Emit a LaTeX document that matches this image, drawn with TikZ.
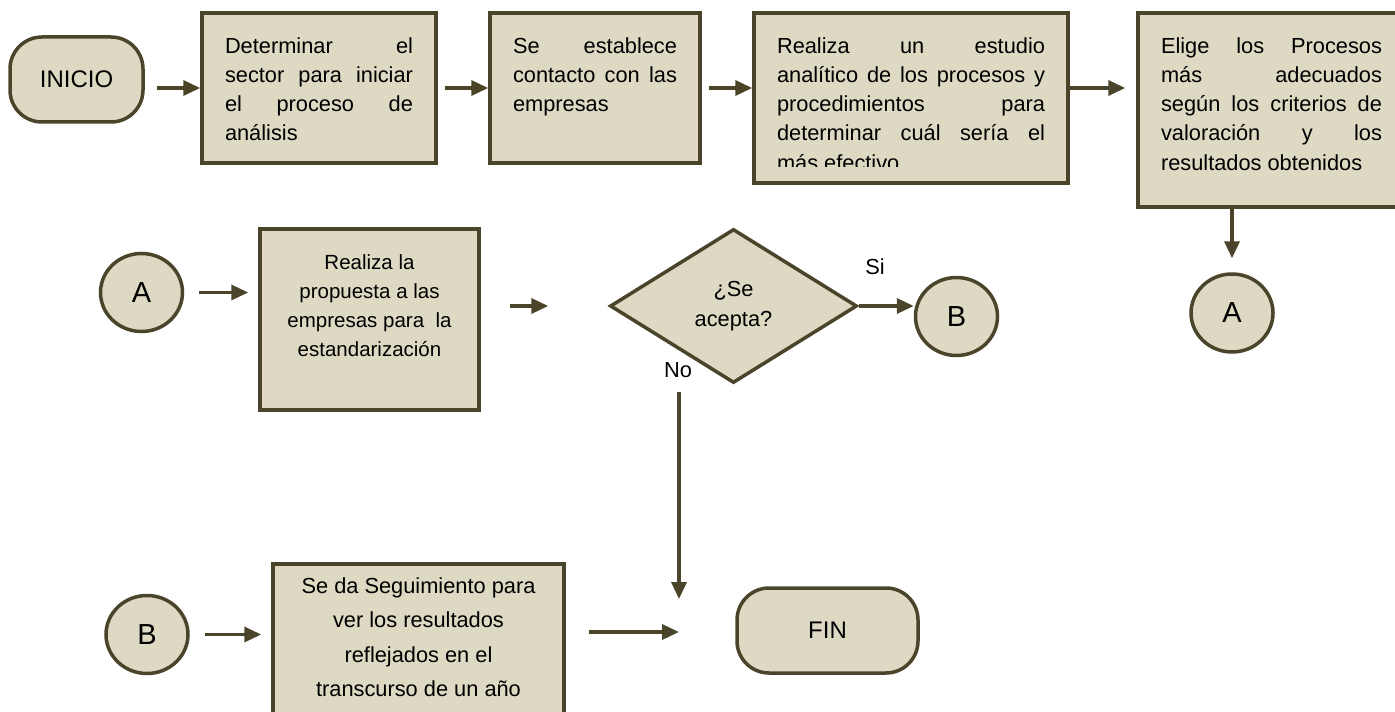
\documentclass[tikz,border=0pt]{standalone}
\usepackage{fontspec}
\setmainfont{Liberation Sans}
\usetikzlibrary{shapes.geometric,arrows.meta}
\definecolor{myolive}{RGB}{74,69,42}
\definecolor{mybeige}{RGB}{221,217,195}
\newcommand{\boxtext}[3]{\parbox[t][#1][t]{#2}{\strut#3}}
\hbadness=10000
\tikzset{
    common/.style={draw=myolive, fill=mybeige, line width=1.75pt},
    term/.style={common, rectangle, rounded corners=16pt, minimum height=42.5pt, font=\fontsize{12}{14}\selectfont},
    proc/.style={common, rectangle, inner xsep=11.5pt, inner ysep=9.75pt, font=\fontsize{10.9}{14.65}\selectfont},
    conn/.style={common, ellipse, minimum width=41pt, minimum height=39pt, inner sep=0pt, font=\fontsize{14.5}{17}\selectfont},
    decision/.style={common, diamond, minimum width=123.5pt, minimum height=77pt, inner sep=0pt, align=center, font=\fontsize{10.9}{15}\selectfont},
    lbl/.style={font=\fontsize{10.9}{14.65}\selectfont},
    arr/.style={draw=myolive, line width=1.75pt, -{Triangle[length=8.5pt, width=7.5pt]}}
}
\begin{document}
\begin{tikzpicture}[x=0.5pt, y=-0.5pt]
    \clip (0,0) rectangle (1395,711);

    \path (76.5,79.5) node[term, minimum width=66.5pt] (inicio) {INICIO}
        ++(242.5,8.5) node[proc] (p1) {\boxtext{55.5pt}{94pt}{Determinar el\linebreak sector para iniciar\linebreak el proceso de\linebreak análisis}}
        ++(276,0) node[proc] (p2) {\boxtext{55.5pt}{82pt}{Se establece\linebreak contacto con las\linebreak empresas}}
        ++(316,10) node[proc] (p3) {\boxtext{65.5pt}{134pt}{Realiza un estudio\linebreak analítico de los procesos y\linebreak procedimientos para\linebreak determinar cuál sería el\linebreak más efectivo}}
        ++(360.5,12) node[proc] (p4) {\boxtext{77.5pt}{110.5pt}{Elige los Procesos\linebreak más adecuados\linebreak según los criterios de\linebreak valoración y los\linebreak resultados obtenidos}}
        ++(-39.5,203) node[conn] (ca2) {A};
    \fill[mybeige] (756.5,167) rectangle (1066,181);

    \path (141.5,292.5) node[conn] (ca1) {A}
        ++(228,27) node[proc, font=\fontsize{10.25}{14.65}\selectfont] (p5) {\boxtext{71pt}{86.5pt}{\centering Realiza la\\propuesta a las\\empresas para\ \ la\\estandarización}}
        ++(364,-13.5) node[decision] (dec) {¿Se\\acepta?}
        ++(223,10.5) node[conn] (cb1) {B};

    \path (147,634.5) node[conn] (cb2) {B}
        ++(271.5,19.5) node[proc, inner ysep=2.5pt, font=\fontsize{10.9}{17.25}\selectfont] (p6) {\boxtext{85pt}{122.5pt}{\centering Se da Seguimiento para\\ver los resultados\\reflejados en el\\transcurso de un año}}
        ++(409,-23.5) node[term, minimum width=90.5pt] (fin) {FIN};

    \coordinate (join) at (679,632);
    \node[lbl] (si) at (875,267) {Si};
    \node[lbl] (no) at (678,370) {No};

    \draw[arr, shorten <=6pt] (inicio.east |- p1.west) -- (p1.west);
    \draw[arr, shorten <=3.5pt] (p1.east) -- (p2.west);
    \draw[arr, shorten <=3.5pt] (p2.east) -- (p2.east -| p3.west);
    \draw[arr, shorten >=5.5pt] (p3.east |- p2.east) -- (p2.east -| p4.west);
    \draw[arr, shorten >=7pt] (ca2.north |- p4.south) -- (ca2.north);

    \draw[arr, shorten <=7.5pt, shorten >=5pt] (ca1.east) -- (ca1.east -| p5.west);
    \draw[arr, shorten <=14.5pt, shorten >=30pt] (p5.east |- dec.west) -- (dec.west);
    \draw[arr] (dec.east) -- (dec.east -| cb1.west);
    \draw[arr, shorten <=3.5pt, shorten >=16.5pt] (join |- dec.south) -- (join);

    \draw[arr, shorten <=7.5pt, shorten >=5pt] (cb2.east) -- (cb2.east -| p6.west);
    \draw[arr, shorten <=11.5pt] (join -| p6.east) -- (join);
\end{tikzpicture}
\end{document}
